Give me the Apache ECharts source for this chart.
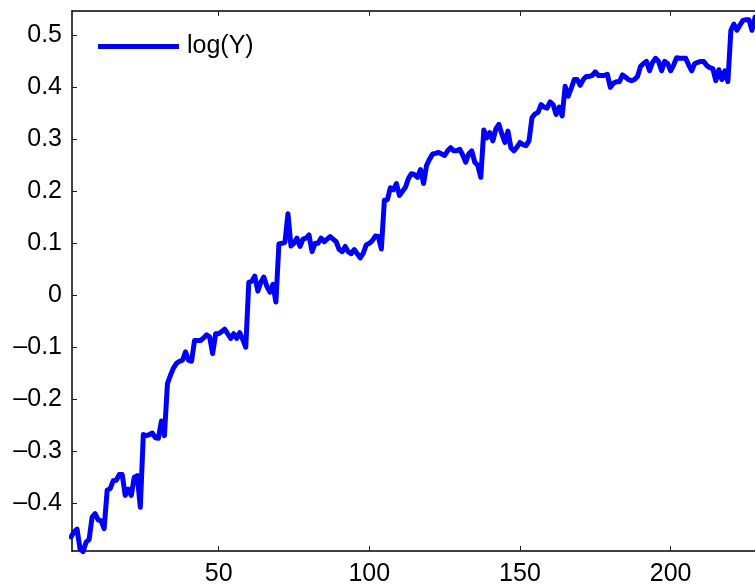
<!DOCTYPE html>
<html>
<head>
<meta charset="utf-8">
<script src="https://cdn.jsdelivr.net/npm/echarts@6/dist/echarts.min.js"></script>
<style>html,body{margin:0;padding:0;background:#fff}#c{width:755px;height:587px}</style>
</head>
<body>
<div id="c"></div>
<script>
const seriesName = 'log(Y)';
const xTicks = [50, 100, 150, 200];
const yTicks = [-0.4, -0.3, -0.2, -0.1, 0, 0.1, 0.2, 0.3, 0.4, 0.5];
const logY = [
-0.465,-0.455,-0.45,-0.488,-0.493,-0.475,-0.47,-0.427,-0.42,-0.432,
-0.434,-0.449,-0.375,-0.372,-0.357,-0.356,-0.345,-0.345,-0.385,-0.373,
-0.385,-0.35,-0.347,-0.408,-0.268,-0.27,-0.268,-0.265,-0.274,-0.275,
-0.242,-0.27,-0.17,-0.154,-0.14,-0.131,-0.127,-0.125,-0.109,-0.125,
-0.127,-0.087,-0.087,-0.087,-0.082,-0.076,-0.08,-0.112,-0.074,-0.074,
-0.07,-0.065,-0.074,-0.083,-0.074,-0.083,-0.072,-0.085,-0.1,0.025,
0.027,0.037,0.008,0.025,0.035,0.017,0.006,0.021,-0.013,0.099,
0.1,0.102,0.157,0.095,0.1,0.11,0.094,0.108,0.11,0.116,
0.084,0.1,0.1,0.11,0.103,0.108,0.113,0.108,0.103,0.088,
0.084,0.094,0.084,0.08,0.088,0.08,0.072,0.081,0.097,0.1,
0.105,0.114,0.113,0.089,0.183,0.184,0.207,0.203,0.215,0.192,
0.2,0.208,0.225,0.234,0.232,0.227,0.242,0.215,0.25,0.262,
0.272,0.273,0.275,0.272,0.269,0.278,0.284,0.278,0.278,0.281,
0.27,0.256,0.272,0.278,0.256,0.25,0.227,0.318,0.303,0.313,
0.297,0.32,0.329,0.31,0.294,0.316,0.284,0.278,0.285,0.294,
0.29,0.288,0.297,0.342,0.349,0.352,0.367,0.362,0.36,0.372,
0.367,0.348,0.362,0.345,0.402,0.383,0.398,0.415,0.415,0.404,
0.415,0.421,0.421,0.423,0.43,0.423,0.423,0.423,0.425,0.4,
0.408,0.411,0.411,0.424,0.42,0.415,0.413,0.415,0.421,0.44,
0.446,0.45,0.432,0.448,0.456,0.45,0.432,0.45,0.446,0.432,
0.443,0.457,0.456,0.456,0.456,0.443,0.432,0.446,0.448,0.45,
0.45,0.442,0.438,0.436,0.413,0.434,0.415,0.432,0.411,0.51,
0.522,0.51,0.52,0.529,0.53,0.53,0.51,0.535
];
const points = logY.map((v, i) => [i + 1, v]);

const FONT = 'Liberation Sans';
const FS = 25;
const X_MIN = 1.33, X_MAX = 228.0;
const chart = echarts.init(document.getElementById('c'), null, {renderer: 'canvas'});
const fmtY = v => {
  const r = Math.round(v * 10) / 10;
  if (r === 0) return '0';
  return (r < 0 ? '\u2013' : '') + Math.abs(r).toFixed(1);
};
const tickStyle = {show: true, inside: true, length: 5, lineStyle: {color: '#222', width: 1}};
chart.setOption({
  animation: false,
  backgroundColor: '#fff',
  legend: {
    data: [{name: seriesName, icon: 'rect'}],
    left: 98, top: 34, padding: 0,
    itemWidth: 81, itemHeight: 5,
    textStyle: {fontFamily: FONT, fontSize: FS, color: '#000', padding: [0, 0, 0, 3]}
  },
  grid: {left: 72, top: 11, width: 683, height: 543, containLabel: false},
  xAxis: [{
    type: 'value', min: X_MIN, max: X_MAX,
    axisLine: {show: true, onZero: false, lineStyle: {color: '#000', width: 1.5}},
    axisTick: Object.assign({customValues: xTicks}, tickStyle),
    axisLabel: {customValues: xTicks, fontFamily: FONT, fontSize: FS, color: '#000', margin: 11},
    splitLine: {show: false}
  }, {
    type: 'value', position: 'top', min: X_MIN, max: X_MAX,
    axisLine: {show: true, onZero: false, lineStyle: {color: '#000', width: 1.5}},
    axisTick: Object.assign({customValues: xTicks}, tickStyle),
    axisLabel: {show: false},
    splitLine: {show: false}
  }],
  yAxis: [{
    type: 'value', min: -0.492, max: 0.547,
    axisLine: {show: true, onZero: false, lineStyle: {color: '#000', width: 1.5}},
    axisTick: Object.assign({customValues: yTicks}, tickStyle),
    axisLabel: {customValues: yTicks, formatter: fmtY, fontFamily: FONT, fontSize: FS, color: '#000', margin: 10},
    splitLine: {show: false}
  }],
  series: [{
    name: seriesName, type: 'line', data: points,
    showSymbol: false, symbol: 'none', clip: false,
    lineStyle: {color: '#0000ff', width: 5, join: 'round', cap: 'round'},
    itemStyle: {color: '#0000ff'},
    z: 5
  }]
});
</script>
</body>
</html>
